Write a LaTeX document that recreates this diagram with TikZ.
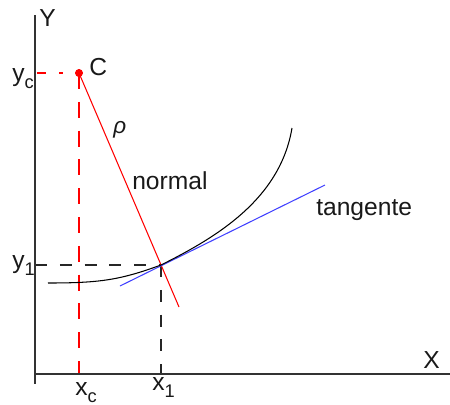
\documentclass[tikz,border=0pt]{standalone}
\usepackage{fontspec}
\setmainfont{Liberation Sans}
\usetikzlibrary{positioning, calc}
\def\pxUnit{0.025cm}
\def\axisWidth{1.2pt}
\def\thinWidth{0.75pt}
\def\subDrop{5pt}
\newcommand{\lowsub}[1]{\raisebox{-\subDrop}{\fontsize{13}{13}\selectfont #1}}
\newcommand{\CurvatureStyles}{
  \tikzset{
    axis/.style={draw=black!80, line width=\axisWidth},
    guide/.style={line width=\thinWidth},
    redguide/.style={guide, draw=red, dash pattern=on 0.4cm off 0.32cm},
    redshort/.style={guide, draw=red,
      dash pattern=on 0pt off 0.05cm on 0.225cm off 0.325cm on 0.1cm off 0.75cm},
    blackguide/.style={guide, draw=black!85, dash pattern=on 0.3cm off 0.32cm},
    normalline/.style={draw=red, line width=\thinWidth},
    tangentline/.style={draw=blue!75!white, line width=\thinWidth},
    curveline/.style={draw=black, line width=\thinWidth},
    centre/.style={circle, fill=red, inner sep=0pt, minimum size=5.5pt},
    lbl/.style={inner sep=0pt, anchor=base west, text=black!90}
  }
}

\begin{document}
\begin{tikzpicture}[
  x=\pxUnit, y=-\pxUnit,
  font=\fontsize{17.5}{21}\selectfont
]
  \CurvatureStyles
  \useasboundingbox (0,0) rectangle (450,404);

  % axes
  \coordinate (origin) at (35,374);
  \coordinate (ytop) at (35,15);
  \coordinate (ybot) at (35,384);
  \coordinate (xend) at (450,374);

  % centre of curvature and point of contact
  \node[centre] (C) at (79,73) {};
  \coordinate (P) at (161,265);
  \coordinate (yc) at (C -| origin);
  \coordinate (xc) at (C |- origin);
  \coordinate (y1) at (P -| origin);
  \coordinate (x1) at (P |- origin);
  \coordinate (normEnd) at (179,307);
  \coordinate (tanStart) at (120,286);
  \coordinate (tanEnd) at (325,185);
  \coordinate (curveStart) at (48,283);
  \coordinate (curveEnd) at (292,128);

  \draw[redshort] (yc) -- (C.center);
  \draw[redguide] (C.center) -- (xc);
  \draw[blackguide] (y1) -- (P);
  \draw[blackguide] (P) -- (x1);

  \draw[normalline] (C.center) -- (normEnd);
  \draw[tangentline] (tanStart) -- (tanEnd);
  \draw[curveline] (curveStart) .. controls (100,283) and (120,280) .. (P)
    .. controls (215,238) and (280,200) .. (curveEnd);

  \draw[axis] (ytop) -- (ybot);
  \draw[axis] (origin) -- (xend);
  \node[centre] at (C) {};

  % labels
  \node[lbl] (labY) at (39,26) {Y};
  \node[lbl] (labX) at (423,368) {X};
  \node[lbl] (labC) at (89,75) {C};
  \node[lbl] (labyc) at (12,81) {y\lowsub{c}};
  \node[lbl] (laby1) at (12,268) {y\lowsub{1}};
  \node[lbl] (labxc) at (75,395) {x\lowsub{c}};
  \node[lbl] (labx1) at (152,390) {x\lowsub{1}};
  \node[lbl, font=\fontsize{16}{16}\selectfont\itshape] (labrho) at (113,133) {ρ};
  \node[lbl] (labnormal) at (132,189) {normal};
  \node[lbl] (labtan) at (316,215) {tangente};
\end{tikzpicture}
\end{document}
